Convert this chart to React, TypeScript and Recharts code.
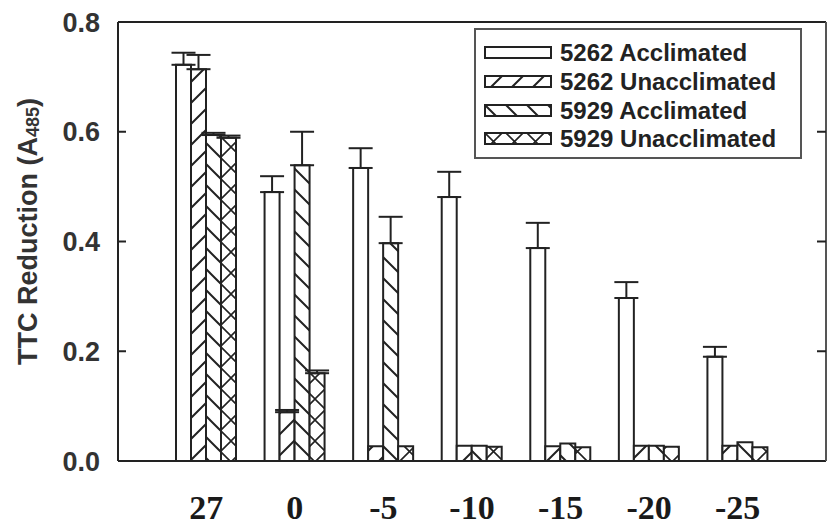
import React from "react";
import {
  BarChart,
  Bar,
  XAxis,
  YAxis,
  ErrorBar,
  Legend,
  ReferenceLine,
} from "recharts";

// temperatures (°C)
const categories = ["27", "0", "-5", "-10", "-15", "-20", "-25"];

const acc5262 = [0.722, 0.49, 0.534, 0.481, 0.388, 0.297, 0.19];
const acc5262Err = [0.022, 0.029, 0.036, 0.046, 0.046, 0.029, 0.018];
const unacc5262 = [0.714, 0.089, 0.027, 0.028, 0.027, 0.028, 0.028];
const unacc5262Err = [0.026, 0.004, null, null, null, null, null];
const acc5929 = [0.594, 0.539, 0.397, 0.028, 0.032, 0.028, 0.034];
const acc5929Err = [0.004, 0.061, 0.048, null, null, null, null];
const unacc5929 = [0.589, 0.16, 0.027, 0.026, 0.025, 0.026, 0.025];
const unacc5929Err = [0.004, 0.005, null, null, null, null, null];

const yTicks = [0, 0.2, 0.4, 0.6, 0.8];

const up = (e: number | null) => (e == null ? undefined : [0, e]);

const data = categories.map((cat, i) => ({
  cat,
  a62: acc5262[i],
  a62e: up(acc5262Err[i]),
  u62: unacc5262[i],
  u62e: up(unacc5262Err[i]),
  a29: acc5929[i],
  a29e: up(acc5929Err[i]),
  u29: unacc5929[i],
  u29e: up(unacc5929Err[i]),
}));

const series = [
  { key: "a62", err: "a62e", name: "5262 Acclimated", fill: "#fff" },
  { key: "u62", err: "u62e", name: "5262 Unacclimated", fill: "url(#hatchF)" },
  { key: "a29", err: "a29e", name: "5929 Acclimated", fill: "url(#hatchB)" },
  { key: "u29", err: "u29e", name: "5929 Unacclimated", fill: "url(#hatchX)" },
];

const INK = "#222";
const SANS = "'Liberation Sans', Arial, sans-serif";
const SERIF = "'Liberation Serif', 'Times New Roman', serif";
const PLOT_RIGHT = 826;
const PLOT_TOP = 22;
const PLOT_BOTTOM = 461;

// left ticks point inward; the mirrored ticks and the right frame are drawn here too
function LeftTick({ x, y, payload, index }: any) {
  const v = Number(payload.value);
  const inner = v > 0 && v < 0.8;
  return (
    <g>
      <line x1={x} x2={x + 8} y1={y} y2={y} stroke={INK} strokeWidth={2} />
      {inner && (
        <line x1={PLOT_RIGHT - 9} x2={PLOT_RIGHT} y1={y} y2={y} stroke={INK} strokeWidth={2} />
      )}
      {index === 0 && (
        <line
          x1={PLOT_RIGHT}
          x2={PLOT_RIGHT}
          y1={PLOT_TOP}
          y2={PLOT_BOTTOM}
          stroke="#555"
          strokeWidth={2}
        />
      )}
      <text
        x={x - 18}
        y={y}
        dy="0.36em"
        textAnchor="end"
        fontFamily={SANS}
        fontWeight={700}
        fontSize={27}
        fill="#333"
      >
        {v.toFixed(1)}
      </text>
    </g>
  );
}

function BottomTick({ x, y, payload }: any) {
  return (
    <text
      x={x}
      y={y + 50}
      textAnchor="middle"
      fontFamily={SERIF}
      fontWeight={700}
      fontSize={34}
      fill="#1a1a1a"
    >
      {payload.value}
    </text>
  );
}

function YTitle({ viewBox }: any) {
  const cx = 28;
  const cy = viewBox.y + viewBox.height / 2 - 10;
  return (
    <text
      x={cx}
      y={cy}
      transform={`rotate(-90 ${cx} ${cy})`}
      textAnchor="middle"
      dominantBaseline="central"
      fontFamily={SANS}
      fontWeight={700}
      fontSize={27}
      fill="#333"
    >
      TTC Reduction (A
      <tspan dy={5} fontSize={18}>
        485
      </tspan>
      <tspan dy={-5}>)</tspan>
    </text>
  );
}

function LegendBox() {
  return (
    <div
      style={{
        width: 328,
        height: 131,
        boxSizing: "border-box",
        border: "2px solid #555",
        paddingTop: 9,
        fontFamily: SANS,
        fontWeight: 700,
        fontSize: 24,
        color: INK,
      }}
    >
      {series.map((s) => (
        <div
          key={s.key}
          style={{ height: 28.7, display: "flex", alignItems: "center" }}
        >
          <svg width={70} height={16} style={{ marginLeft: 7, marginRight: 7 }}>
            <rect
              x={2}
              y={2}
              width={66}
              height={11}
              fill={s.fill}
              stroke={INK}
              strokeWidth={2}
            />
          </svg>
          <span style={{ whiteSpace: "nowrap" }}>{s.name}</span>
        </div>
      ))}
    </div>
  );
}

export default function App() {
  return (
    <div style={{ position: "absolute", left: 0, top: 0, background: "#fff" }}>
      <BarChart
        width={827}
        height={529}
        data={data}
        margin={{ top: 22, right: 1, left: 0, bottom: 0 }}
        barSize={15}
        barGap={0}
      >
        <defs>
          <pattern id="hatchF" patternUnits="userSpaceOnUse" width={21} height={21}>
            <rect width={21} height={21} fill="#fff" />
            <path d="M-5,5 l10,-10 M0,21 l21,-21 M16,26 l10,-10" stroke={INK} strokeWidth={2} />
          </pattern>
          <pattern id="hatchB" patternUnits="userSpaceOnUse" width={21} height={21}>
            <rect width={21} height={21} fill="#fff" />
            <path d="M-5,16 l10,10 M0,0 l21,21 M16,-5 l10,10" stroke={INK} strokeWidth={2} />
          </pattern>
          <pattern id="hatchX" patternUnits="userSpaceOnUse" width={21} height={21}>
            <rect width={21} height={21} fill="#fff" />
            <path
              d="M-5,5 l10,-10 M0,21 l21,-21 M16,26 l10,-10 M-5,16 l10,10 M0,0 l21,21 M16,-5 l10,10"
              stroke={INK}
              strokeWidth={1.6}
            />
          </pattern>
        </defs>
        <XAxis
          dataKey="cat"
          height={68}
          padding={{ left: 44, right: 44 }}
          axisLine={{ stroke: INK, strokeWidth: 2 }}
          tickLine={false}
          tick={<BottomTick />}
          interval={0}
        />
        <YAxis
          width={118}
          domain={[0, 0.8]}
          ticks={yTicks}
          axisLine={{ stroke: INK, strokeWidth: 2 }}
          tickLine={false}
          tickSize={0}
          tickMargin={0}
          tick={<LeftTick />}
          label={<YTitle />}
        />
        <ReferenceLine y={0.8} stroke={INK} strokeWidth={2} />
        <Legend
          layout="horizontal"
          verticalAlign="middle"
          align="center"
          wrapperStyle={{ left: 474, top: 28, width: 328, height: 131 }}
          content={<LegendBox />}
        />
        {series.map((s) => (
          <Bar
            key={s.key}
            dataKey={s.key}
            name={s.name}
            fill={s.fill}
            stroke={INK}
            strokeWidth={2}
            isAnimationActive={false}
          >
            <ErrorBar dataKey={s.err} width={12} stroke={INK} strokeWidth={2} direction="y" />
          </Bar>
        ))}
      </BarChart>
    </div>
  );
}
